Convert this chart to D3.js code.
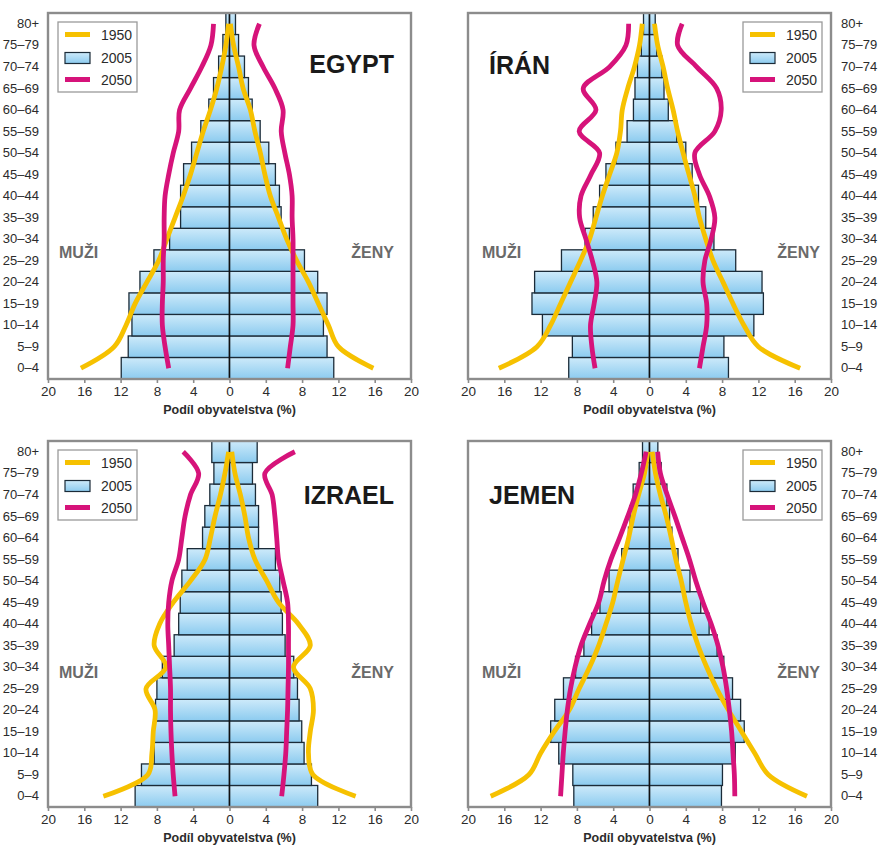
<!DOCTYPE html>
<html>
<head>
<meta charset="utf-8">
<script src="https://cdn.jsdelivr.net/npm/d3@7/dist/d3.min.js"></script>
<style>
  html, body { margin: 0; padding: 0; background: #fff; }
  svg { display: block; font-family: "Liberation Sans", Arial, Helvetica, sans-serif; }
</style>
</head>
<body>
<svg id="chart" width="879" height="845"></svg>
<script>
// ---------- data (order: 0–4 ... 80+) ----------
const ageGroups = ["0–4","5–9","10–14","15–19","20–24","25–29","30–34","35–39","40–44","45–49","50–54","55–59","60–64","65–69","70–74","75–79","80+"];
const xTickValues = [-20,-16,-12,-8,-4,0,4,8,12,16,20];
const seriesYears = ["1950","2005","2050"];
const countryNames = ["EGYPT","ÍRÁN","IZRAEL","JEMEN"];
const sideLabels = ["MUŽI","ŽENY"];
const axisTitle = "Podíl obyvatelstva (%)";

const egyptMale2005   = [11.93,11.16,10.75,11.08,9.87,8.33,6.6,5.39,5.39,5.06,4.18,3.16,2.28,1.76,1.2,0.73,0.4];
const egyptFemale2005 = [11.49,10.75,10.35,10.75,9.72,8.26,6.6,5.69,5.5,5.06,4.33,3.38,2.5,2.09,1.65,1.0,0.66];
const egyptMale1950   = [16.37,12.7,11.4,10.4,9.1,7.8,6.9,6.0,5.1,4.3,3.6,2.9,2.1,1.4,0.85,0.4,0.1];
const egyptFemale1950 = [15.85,12.0,10.9,9.8,8.7,7.4,6.3,5.4,4.5,3.9,3.4,2.8,2.3,1.5,1.0,0.45,0.1];
const egyptMale2050   = [6.7,7.1,7.4,7.4,7.3,7.3,7.2,7.2,7.1,6.7,6.2,5.6,5.5,4.3,3.05,2.05,1.76];
const egyptFemale2050 = [6.4,6.7,7.0,7.0,7.0,7.0,7.0,6.9,6.9,6.6,6.1,5.7,5.9,5.0,3.7,2.7,3.3];

const iranMale2005   = [8.9,8.5,11.8,12.95,12.66,9.7,7.1,6.2,5.5,4.8,3.7,2.47,1.77,1.6,1.33,0.9,0.66];
const iranFemale2005 = [8.7,8.2,11.5,12.55,12.4,9.5,7.1,6.2,5.4,4.7,4.0,3.0,2.07,1.6,1.37,0.8,0.63];
const iranMale1950   = [16.6,12.4,10.9,9.8,8.7,7.6,6.6,5.9,5.2,4.4,3.6,3.2,3.0,2.4,1.66,1.1,0.8];
const iranFemale1950 = [16.6,12.0,10.4,9.2,8.1,7.0,6.2,5.5,5.0,4.35,3.7,3.1,2.6,2.0,1.5,0.9,0.55];
const iranMale2050   = [6.0,6.35,6.5,6.1,5.8,6.3,7.0,7.7,7.55,6.45,5.5,7.75,5.9,7.3,4.4,2.6,2.3];
const iranFemale2050 = [5.5,5.9,6.3,6.3,5.9,6.1,6.8,7.2,6.6,5.5,5.0,7.2,7.9,7.4,5.2,3.1,3.6];

const israelMale2005   = [10.4,9.7,8.3,8.3,8.15,8.0,7.4,6.1,5.6,5.43,5.25,4.66,2.97,2.72,2.17,1.72,1.95];
const israelFemale2005 = [9.72,9.03,8.22,7.96,7.67,7.49,7.08,6.13,5.83,5.69,5.54,5.06,3.2,3.2,2.86,2.53,3.05];
const israelMale1950   = [13.9,9.0,8.55,8.4,8.2,9.2,7.0,8.3,7.7,6.2,4.3,2.7,2.1,1.6,1.0,0.5,0.1];
const israelFemale1950 = [13.9,9.2,8.7,8.9,9.25,8.9,7.05,8.9,7.6,5.4,4.1,2.8,2.1,1.7,1.2,0.6,0.25];
const israelMale2050   = [6.0,6.2,6.35,6.45,6.5,6.5,6.6,6.7,6.8,6.7,6.35,5.6,5.25,4.9,4.3,3.4,5.1];
const israelFemale2050 = [5.75,6.0,6.2,6.3,6.4,6.45,6.5,6.5,6.5,6.4,5.9,5.4,5.2,5.0,4.7,3.9,7.2];

const yemenMale2005   = [8.34,8.45,10.0,10.89,10.44,9.48,8.15,7.23,6.38,5.46,4.46,3.06,2.32,2.14,1.8,1.14,0.77];
const yemenFemale2005 = [7.93,8.04,9.45,10.44,10.04,9.15,8.19,7.45,6.57,5.65,4.46,3.14,2.47,2.21,1.92,1.29,0.92];
const yemenMale1950   = [17.5,13.3,12.0,10.5,8.85,7.75,6.6,5.6,4.8,4.05,3.5,2.9,2.3,1.8,1.2,0.55,0.2];
const yemenFemale1950 = [17.35,13.1,11.6,10.15,8.7,7.4,6.3,5.35,4.6,4.0,3.5,2.9,2.4,1.85,1.2,0.66,0.3];
const yemenMale2050   = [9.8,9.65,9.5,9.3,9.05,8.7,8.2,7.55,6.6,5.6,5.0,4.25,3.3,2.4,1.55,0.9,0.37];
const yemenFemale2050 = [9.4,9.35,9.2,9.05,8.8,8.5,8.1,7.55,6.8,5.9,5.1,4.4,3.6,2.8,1.95,1.2,0.9];

// ---------- layout ----------
const W = 363, H = 366;
const panels = [
  { name: countryNames[0], x0: 48,  y0: 13,  side: "left",
    d: { m05: egyptMale2005, f05: egyptFemale2005, m50: egyptMale1950, f50: egyptFemale1950, m2050: egyptMale2050, f2050: egyptFemale2050 },
    legend: [58, 22], title: { x: 394, y: 73, anchor: "end" }, mz: { l: 59, r: 394, y: 258 } },
  { name: countryNames[1], x0: 468, y0: 13,  side: "right",
    d: { m05: iranMale2005, f05: iranFemale2005, m50: iranMale1950, f50: iranFemale1950, m2050: iranMale2050, f2050: iranFemale2050 },
    legend: [743, 22], title: { x: 489, y: 74, anchor: "start" }, mz: { l: 482, r: 820, y: 258 } },
  { name: countryNames[2], x0: 48,  y0: 441, side: "left",
    d: { m05: israelMale2005, f05: israelFemale2005, m50: israelMale1950, f50: israelFemale1950, m2050: israelMale2050, f2050: israelFemale2050 },
    legend: [58, 450], title: { x: 394, y: 504, anchor: "end" }, mz: { l: 59, r: 394, y: 678 } },
  { name: countryNames[3], x0: 468, y0: 441, side: "right",
    d: { m05: yemenMale2005, f05: yemenFemale2005, m50: yemenMale1950, f50: yemenFemale1950, m2050: yemenMale2050, f2050: yemenFemale2050 },
    legend: [743, 450], title: { x: 489, y: 504, anchor: "start" }, mz: { l: 482, r: 820, y: 678 } }
];

const C1950 = "#f6c100", C2050 = "#d6137a", BAR_STROKE = "#1b2b38", FRAME = "#8c8c8c", TXT = "#2b2b2b";

const svg = d3.select("#chart");
const defs = svg.append("defs");
const grad = defs.append("linearGradient").attr("id", "barGrad").attr("x1", 0).attr("y1", 0).attr("x2", 0).attr("y2", 1);
grad.append("stop").attr("offset", "0%").attr("stop-color", "#cdeafa");
grad.append("stop").attr("offset", "100%").attr("stop-color", "#8ccbef");

panels.forEach(p => {
  const g = svg.append("g").attr("transform", `translate(${p.x0},${p.y0})`);
  const x = d3.scaleLinear().domain([-20, 20]).range([0, W]);
  const y = d3.scaleBand().domain(ageGroups).range([H, 0]).padding(0);
  const yc = a => y(a) + y.bandwidth() / 2;

  // bars
  const rows = ageGroups.map((a, i) => ({ a, m: p.d.m05[i], f: p.d.f05[i] }));
  g.selectAll(".bm").data(rows).join("rect")
    .attr("x", d => x(-d.m)).attr("y", d => y(d.a))
    .attr("width", d => x(0) - x(-d.m)).attr("height", y.bandwidth())
    .attr("fill", "url(#barGrad)").attr("stroke", BAR_STROKE).attr("stroke-width", 1.3);
  g.selectAll(".bf").data(rows).join("rect")
    .attr("x", x(0)).attr("y", d => y(d.a))
    .attr("width", d => x(d.f) - x(0)).attr("height", y.bandwidth())
    .attr("fill", "url(#barGrad)").attr("stroke", BAR_STROKE).attr("stroke-width", 1.3);
  g.append("line").attr("x1", x(0)).attr("x2", x(0)).attr("y1", 0).attr("y2", H)
    .attr("stroke", "#111").attr("stroke-width", 1.4);

  // lines
  const line = d3.line().curve(d3.curveCatmullRom.alpha(0.5));
  const draw = (vals, sign, color) => {
    g.append("path")
      .attr("d", line(ageGroups.map((a, i) => [x(sign * vals[i]), yc(a)])))
      .attr("fill", "none").attr("stroke", color).attr("stroke-width", 4.8)
      .attr("stroke-linejoin", "round");
  };
  draw(p.d.m50, -1, C1950);
  draw(p.d.f50, 1, C1950);
  draw(p.d.m2050, -1, C2050);
  draw(p.d.f2050, 1, C2050);

  // frame
  g.append("rect").attr("x", 0).attr("y", 0).attr("width", W).attr("height", H)
    .attr("fill", "none").attr("stroke", FRAME).attr("stroke-width", 2.4);

  // x axis
  const xa = g.append("g").attr("transform", `translate(0,${H})`)
    .call(d3.axisBottom(x).tickValues(xTickValues).tickFormat(v => Math.abs(v)).tickSize(4).tickPadding(3));
  xa.select(".domain").remove();
  xa.selectAll(".tick line").attr("stroke", FRAME).attr("stroke-width", 1.6);
  xa.selectAll(".tick text").attr("fill", TXT).style("font-size", "13.5px")
    .style("font-family", "'Liberation Sans', Arial, sans-serif");
  g.append("text").attr("x", x(0)).attr("y", H + 35).attr("text-anchor", "middle")
    .attr("fill", TXT).style("font-size", "12.5px").style("font-weight", "bold").text(axisTitle);

  // y labels
  const ya = g.append("g").attr("transform", p.side === "left" ? "translate(0,0)" : `translate(${W},0)`)
    .call((p.side === "left" ? d3.axisLeft(y) : d3.axisRight(y)).tickSize(0).tickPadding(p.side === "left" ? 9 : 10));
  ya.select(".domain").remove();
  ya.selectAll(".tick text").attr("fill", TXT).style("font-size", "13px")
    .style("font-family", "'Liberation Sans', Arial, sans-serif");

  // title
  svg.append("text").attr("x", p.title.x).attr("y", p.title.y).attr("text-anchor", p.title.anchor)
    .attr("fill", "#1a1a1a").style("font-size", "25px").style("font-weight", "bold").text(p.name);
  // side labels
  svg.append("text").attr("x", p.mz.l).attr("y", p.mz.y).attr("fill", "#6a6a6a")
    .style("font-size", "16px").style("font-weight", "bold").text(sideLabels[0]);
  svg.append("text").attr("x", p.mz.r).attr("y", p.mz.y).attr("text-anchor", "end").attr("fill", "#6a6a6a")
    .style("font-size", "16px").style("font-weight", "bold").text(sideLabels[1]);

  // legend
  const lg = svg.append("g").attr("transform", `translate(${p.legend[0]},${p.legend[1]})`);
  lg.append("rect").attr("width", 79).attr("height", 70).attr("fill", "#fff")
    .attr("stroke", "#9a9a9a").attr("stroke-width", 1.3);
  const rowsY = [12.5, 36, 57.5];
  lg.append("line").attr("x1", 7).attr("x2", 32).attr("y1", rowsY[0]).attr("y2", rowsY[0])
    .attr("stroke", C1950).attr("stroke-width", 5);
  lg.append("rect").attr("x", 7).attr("y", rowsY[1] - 5.5).attr("width", 25).attr("height", 11)
    .attr("fill", "url(#barGrad)").attr("stroke", BAR_STROKE).attr("stroke-width", 1.2);
  lg.append("line").attr("x1", 7).attr("x2", 32).attr("y1", rowsY[2]).attr("y2", rowsY[2])
    .attr("stroke", C2050).attr("stroke-width", 5);
  seriesYears.forEach((s, i) => {
    lg.append("text").attr("x", 43).attr("y", rowsY[i] + 5).attr("fill", TXT)
      .style("font-size", "14px").text(s);
  });
});
</script>
</body>
</html>
